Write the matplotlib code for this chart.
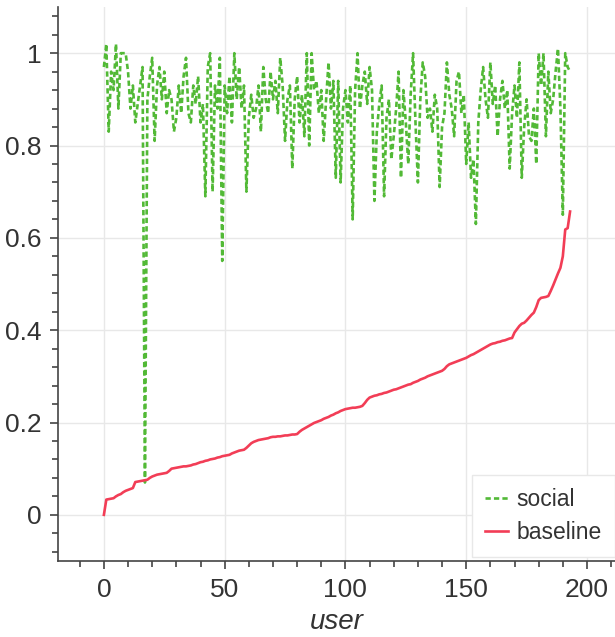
import numpy as np
import matplotlib
matplotlib.use('Agg')
import matplotlib.pyplot as plt
from matplotlib.ticker import MultipleLocator, FuncFormatter


social = [
    0.97, 1.02, 0.83, 0.96, 0.92, 1.02, 0.88, 1.00, 1.00, 1.00,
    0.96, 0.88, 0.93, 0.85, 0.89, 0.93, 0.97, 0.07, 0.90, 0.95,
    0.99, 0.81, 0.93, 0.97, 0.90, 0.96, 0.87, 0.92, 0.90, 0.83,
    0.86, 0.93, 0.87, 0.95, 0.99, 0.87, 0.85, 0.93, 0.89, 0.95,
    0.85, 0.89, 0.69, 0.97, 1.00, 0.70, 0.93, 0.88, 0.99, 0.55,
    0.93, 0.87, 0.95, 0.85, 1.00, 0.90, 0.97, 0.88, 0.93, 0.70,
    0.86, 0.91, 0.86, 0.88, 0.93, 0.83, 0.97, 0.90, 0.87, 0.96,
    0.90, 0.94, 0.87, 0.99, 0.93, 0.81, 0.90, 0.93, 0.75, 0.90,
    0.95, 0.85, 0.91, 0.82, 1.00, 0.80, 1.00, 0.92, 0.94, 0.87,
    0.92, 0.81, 0.90, 0.98, 0.88, 0.94, 0.73, 0.94, 0.72, 0.88,
    0.92, 0.85, 0.93, 0.64, 0.92, 1.00, 0.88, 0.93, 0.96, 0.89,
    0.97, 0.92, 0.68, 0.83, 0.89, 0.93, 0.69, 0.86, 0.90, 0.77,
    0.82, 0.88, 0.96, 0.73, 0.92, 0.85, 0.76, 0.91, 1.00, 0.85,
    0.72, 0.90, 0.98, 0.95, 0.86, 0.88, 0.83, 0.91, 0.88, 0.71,
    0.84, 0.87, 0.98, 0.91, 0.88, 0.82, 0.94, 0.96, 0.87, 0.91,
    0.76, 0.85, 0.73, 0.77, 0.63, 0.85, 0.92, 0.97, 0.90, 0.86,
    0.98, 0.89, 0.93, 0.82, 0.90, 0.94, 0.88, 0.92, 0.75, 0.87,
    0.93, 0.86, 0.98, 0.73, 0.84, 0.90, 0.82, 0.81, 0.88, 0.76,
    1.00, 0.93, 1.00, 0.82, 0.96, 0.87, 0.90, 0.96, 1.01, 0.88,
    0.65, 1.00, 0.97, 0.96,
]

baseline = [
    0.000, 0.033, 0.034, 0.035, 0.036, 0.040, 0.043, 0.045, 0.049, 0.052,
    0.054, 0.056, 0.058, 0.071, 0.072, 0.073, 0.074, 0.075, 0.076, 0.080,
    0.083, 0.085, 0.087, 0.088, 0.089, 0.090, 0.091, 0.095, 0.100, 0.101,
    0.102, 0.103, 0.104, 0.105, 0.105, 0.106, 0.107, 0.109, 0.110, 0.112,
    0.114, 0.115, 0.117, 0.118, 0.120, 0.121, 0.122, 0.124, 0.125, 0.127,
    0.128, 0.129, 0.130, 0.133, 0.135, 0.137, 0.139, 0.140, 0.141, 0.145,
    0.150, 0.155, 0.158, 0.160, 0.162, 0.163, 0.164, 0.165, 0.166, 0.168,
    0.169, 0.169, 0.170, 0.170, 0.171, 0.172, 0.172, 0.173, 0.174, 0.174,
    0.175, 0.180, 0.184, 0.187, 0.190, 0.193, 0.196, 0.199, 0.201, 0.203,
    0.205, 0.208, 0.210, 0.212, 0.215, 0.217, 0.220, 0.222, 0.225, 0.227,
    0.229, 0.230, 0.231, 0.232, 0.232, 0.233, 0.234, 0.236, 0.242, 0.249,
    0.254, 0.256, 0.258, 0.259, 0.261, 0.262, 0.264, 0.265, 0.267, 0.269,
    0.271, 0.272, 0.274, 0.276, 0.278, 0.280, 0.282, 0.283, 0.286, 0.288,
    0.290, 0.293, 0.295, 0.297, 0.300, 0.302, 0.304, 0.306, 0.308, 0.310,
    0.312, 0.316, 0.322, 0.326, 0.328, 0.330, 0.332, 0.334, 0.336, 0.338,
    0.340, 0.343, 0.346, 0.348, 0.351, 0.354, 0.357, 0.360, 0.363, 0.366,
    0.369, 0.371, 0.372, 0.374, 0.375, 0.377, 0.378, 0.380, 0.382, 0.383,
    0.395, 0.402, 0.409, 0.414, 0.416, 0.421, 0.427, 0.433, 0.438, 0.450,
    0.465, 0.470, 0.471, 0.472, 0.474, 0.485, 0.497, 0.510, 0.523, 0.535,
    0.560, 0.618, 0.621, 0.657,
]

users = np.arange(len(social))

plt.rcParams['font.family'] = ['Liberation Sans', 'DejaVu Sans']

fig = plt.figure(figsize=(6.15, 6.37), dpi=100)
ax = fig.add_axes([58 / 615, 1 - 561 / 637, 1 - 58 / 615, (561 - 7) / 637])

ax.plot(users, social, color='#52b936', lw=1.9, dashes=(2.0, 1.2), label='social')
ax.plot(users, baseline, color='#f23d56', lw=1.9, label='baseline')

ax.set_xlim(-19, 211.6)
ax.set_ylim(-0.1, 1.1)
ax.xaxis.set_major_locator(MultipleLocator(50))
ax.xaxis.set_minor_locator(MultipleLocator(10))
ax.yaxis.set_major_locator(MultipleLocator(0.2))
ax.yaxis.set_minor_locator(MultipleLocator(0.04))
ax.yaxis.set_major_formatter(FuncFormatter(lambda v, p: f'{v:g}' if abs(v) > 1e-9 else '0'))

ax.grid(True, which='major', color='#e8e8e8', lw=1)
ax.set_axisbelow(True)
for side in ['top', 'right']:
    ax.spines[side].set_visible(False)
for side in ['left', 'bottom']:
    ax.spines[side].set_color('#444444')
    ax.spines[side].set_linewidth(1.2)
ax.tick_params(which='major', direction='out', length=6, width=1.2, color='#444444',
               labelsize=19, labelcolor='#333333', pad=6)
ax.tick_params(which='minor', direction='out', length=4.5, width=1.2, color='#444444')

ax.set_xlabel('user', fontsize=20, style='italic', color='#333333', labelpad=5)

leg = ax.legend(loc='upper left', bbox_to_anchor=(472 / 615, 1 - 475 / 637),
                bbox_transform=fig.transFigure, fontsize=16.5, handlelength=1.0,
                handletextpad=0.4, borderpad=0.55, labelspacing=0.45,
                fancybox=False, framealpha=1, borderaxespad=0)
leg.get_frame().set_edgecolor('#e8e8e8')
for t in leg.get_texts():
    t.set_color('#333333')

fig.savefig('out.png', dpi=100)
